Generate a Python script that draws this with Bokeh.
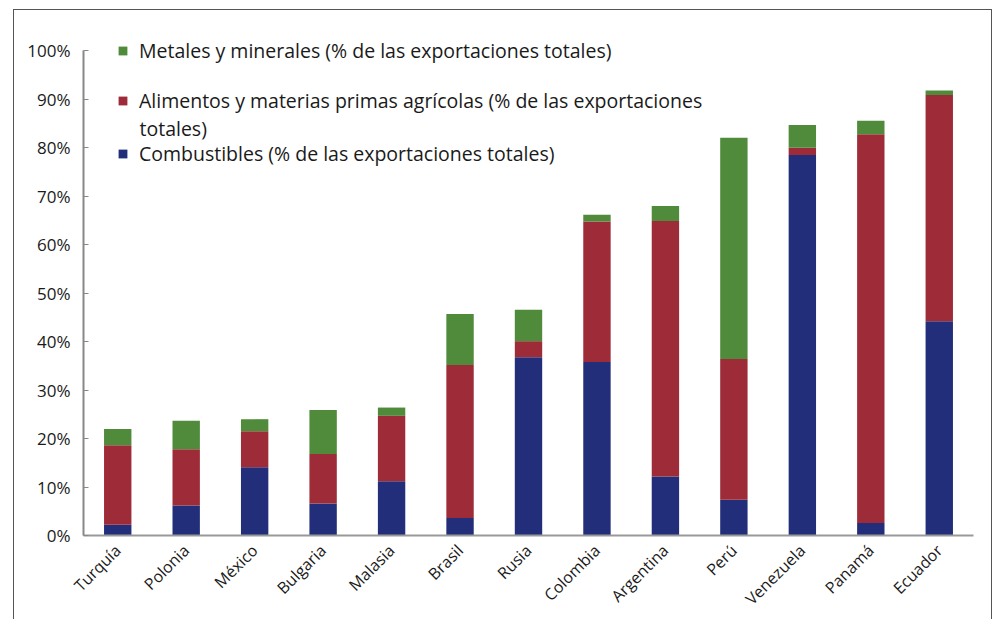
from math import pi
from bokeh.plotting import figure
from bokeh.models import (FactorRange, Range1d, Legend, LegendItem, FixedTicker,
                          PrintfTickFormatter, ColumnDataSource, Label)
from bokeh.embed import file_html
from bokeh.resources import INLINE

# ---- data (percent of total exports) ----
paises = ["Turquía", "Polonia", "México", "Bulgaria", "Malasia", "Brasil", "Rusia",
          "Colombia", "Argentina", "Perú", "Venezuela", "Panamá", "Ecuador"]
combustibles = [2.2, 6.2, 14.1, 6.6, 11.2, 3.6, 36.8, 35.8, 12.2, 7.4, 78.5, 2.6, 44.2]
alimentos = [16.4, 11.6, 7.4, 10.2, 13.5, 31.6, 3.3, 29.0, 52.7, 29.0, 1.5, 80.2, 46.7]
metales = [3.4, 5.9, 2.5, 9.1, 1.7, 10.5, 6.5, 1.4, 3.1, 45.7, 4.7, 2.8, 0.9]
y_ticks = [0, 10, 20, 30, 40, 50, 60, 70, 80, 90, 100]

label_met = "Metales y minerales (% de las exportaciones totales)"
label_ali_1 = "Alimentos y materias primas agrícolas (% de las exportaciones"
label_ali_2 = "totales)"
label_com = "Combustibles (% de las exportaciones totales)"

c_blue = "#232E7A"
c_red = "#9E2C38"
c_green = "#4F8B3B"

FONT = "Open Sans"
TXT = "#1a1a1a"
LEG_SIZE = "19.5px"

source = ColumnDataSource(dict(pais=paises, combustibles=combustibles,
                               alimentos=alimentos, metales=metales))

p = figure(x_range=FactorRange(*paises, range_padding=0), y_range=Range1d(0, 104),
           width=979, height=610, output_backend="svg", toolbar_location=None,
           min_border_left=69, min_border_right=20, min_border_top=21,
           min_border_bottom=84,
           styles={"border-top": "1px solid #555", "border-left": "1px solid #555",
                   "border-right": "1px solid #555", "margin-left": "13px",
                   "margin-top": "9px"})
p.outline_line_color = None
p.grid.grid_line_color = None
p.background_fill_color = "white"
p.border_fill_color = "white"

rs = p.vbar_stack(["combustibles", "alimentos", "metales"], x="pais", width=0.4,
                  color=[c_blue, c_red, c_green], line_color=None, source=source)

# y axis
ya = p.yaxis[0]
ya.ticker = FixedTicker(ticks=y_ticks)
ya.bounds = (0, 100)
ya.formatter = PrintfTickFormatter(format="%d%%")
ya.axis_line_color = "#888888"
ya.axis_line_width = 2
ya.major_tick_line_color = "#888888"
ya.major_tick_in = 5
ya.major_tick_out = 0
ya.minor_tick_line_color = None
ya.major_label_text_font = FONT
ya.major_label_text_font_size = "17px"
ya.major_label_text_color = TXT
ya.major_label_standoff = 13

# x axis
xa = p.xaxis[0]
xa.axis_line_color = "#999999"
xa.axis_line_width = 2
xa.major_tick_line_color = None
xa.minor_tick_line_color = None
xa.major_label_orientation = pi / 4
xa.major_label_text_font = FONT
xa.major_label_text_font_size = "16px"
xa.major_label_text_color = TXT
xa.major_label_standoff = 6


def add_legend(label, renderer, loc):
    lg = Legend(items=[LegendItem(label=label, renderers=[renderer])], location=loc,
                border_line_color=None, background_fill_alpha=0, padding=0, margin=0,
                glyph_width=11, glyph_height=11, label_standoff=11, label_height=20,
                label_text_font=FONT, label_text_font_size=LEG_SIZE,
                label_text_color=TXT)
    p.add_layout(lg, "center")


add_legend(label_met, rs[2], (34, 471))
add_legend(label_ali_1, rs[1], (34, 421))
add_legend(label_com, rs[0], (34, 368))

p.add_layout(Label(x=56, y=407, x_units="screen", y_units="screen", text=label_ali_2,
                   text_font=FONT, text_font_size=LEG_SIZE, text_color=TXT,
                   text_baseline="middle"))

open("out.html", "w").write(file_html(p, INLINE))
